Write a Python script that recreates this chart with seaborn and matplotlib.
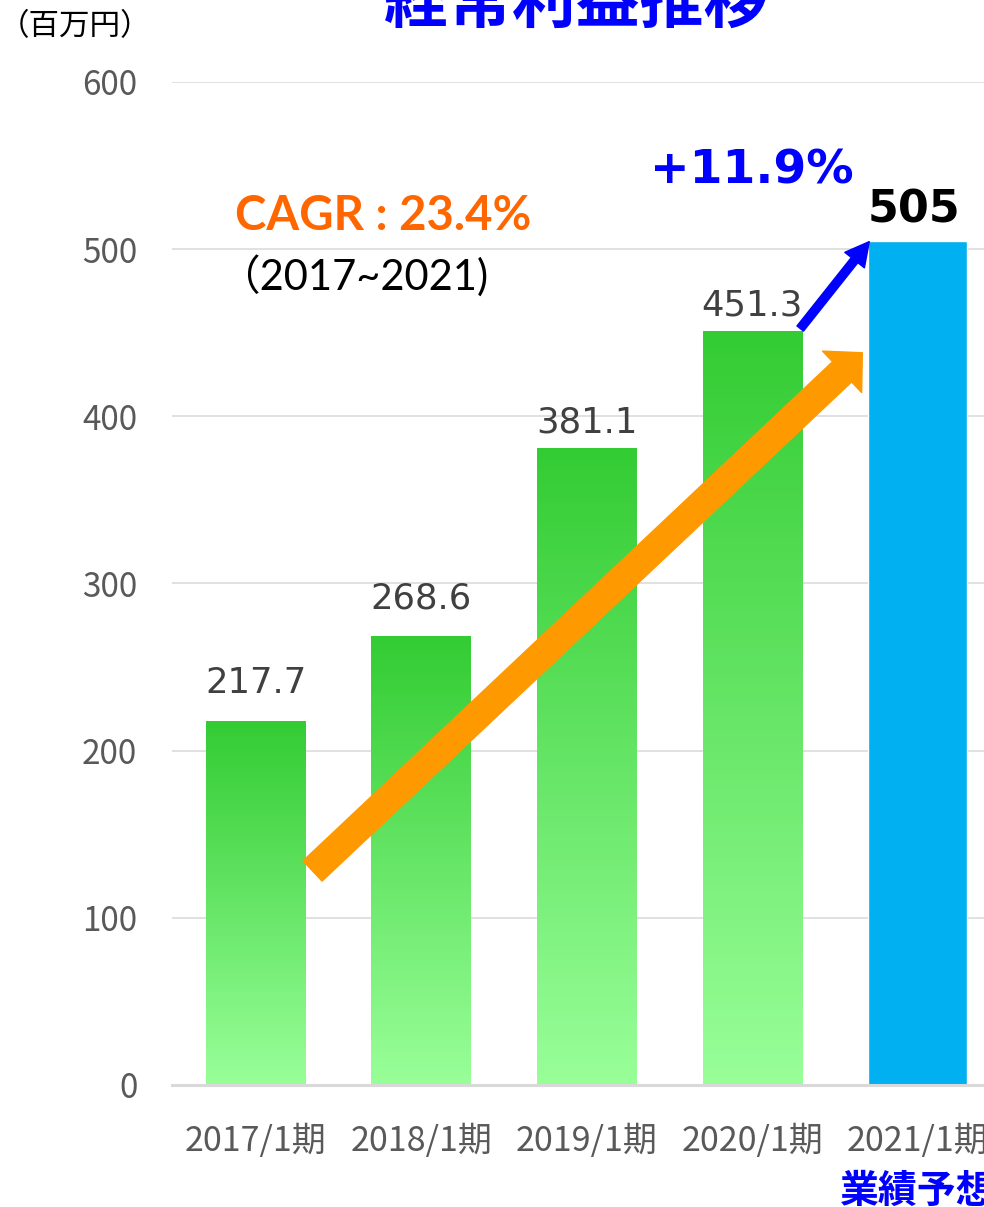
import numpy as np
import pandas as pd
import matplotlib
matplotlib.use("Agg")
import matplotlib.pyplot as plt
import seaborn as sns
from matplotlib.colors import LinearSegmentedColormap
from matplotlib.transforms import blended_transform_factory

# values (unit: million yen)
periods = ["2017/1期", "2018/1期", "2019/1期", "2020/1期", "2021/1期"]
profits = [217.7, 268.6, 381.1, 451.3, 505]
value_labels = ["217.7", "268.6", "381.1", "451.3", "505"]
y_ticks = [0, 100, 200, 300, 400, 500, 600]

title = "経常利益推移"
unit_label = "（百万円）"
forecast_label = "業績予想"
cagr_text = "CAGR : 23.4%"
cagr_range = "（2017~2021)"
growth_text = "+11.9%"

sns.set_theme(style="white")
plt.rcParams["font.family"] = ["Noto Sans CJK JP", "DejaVu Sans"]

df = pd.DataFrame({"period": periods, "profit": profits})

fig = plt.figure(figsize=(9.84, 12.07), dpi=100)
ax = fig.add_axes([0.1748, 0.1011, 0.8252, 0.8310])

bar_colors = ["#33CC33"] * 4 + ["#00B0F0"]
sns.barplot(data=df, x="period", y="profit", hue="period", palette=bar_colors,
            legend=False, width=0.6, saturation=1, ax=ax, zorder=2)

# vertical green gradient on the actual-result bars
green_grad = LinearSegmentedColormap.from_list("green_grad", ["#99FF99", "#33CC33"])
grad = np.linspace(0, 1, 256).reshape(-1, 1)
for patch in ax.patches[:4]:
    x0, y0 = patch.get_x(), patch.get_y()
    w, h = patch.get_width(), patch.get_height()
    im = ax.imshow(grad, cmap=green_grad, origin="lower", aspect="auto",
                   extent=[x0, x0 + w, y0, y0 + h], zorder=2)
    im.set_clip_path(patch)
    patch.set_facecolor("none")
    patch.set_edgecolor("none")

ax.set_xlim(-0.505, 4.40)
ax.set_ylim(0, 600)
ax.set_yticks(y_ticks)
ax.set_xlabel("")
ax.set_ylabel("")
ax.set_axisbelow(True)
ax.yaxis.grid(True, color="#D9D9D9", linewidth=1.1)
ax.xaxis.grid(False)
for side in ["top", "right", "left"]:
    ax.spines[side].set_visible(False)
ax.spines["bottom"].set_color("#D9D9D9")
ax.spines["bottom"].set_linewidth(2.2)
ax.tick_params(axis="y", length=0, pad=25, labelsize=24, labelcolor="#595959")
ax.tick_params(axis="x", length=0, pad=28, labelsize=24.5, labelcolor="#595959")

# value labels
label_pads = [20, 20, 11, 11]
for i in range(4):
    ax.annotate(value_labels[i], (i, profits[i]), xytext=(0, label_pads[i]),
                textcoords="offset points", ha="center", va="baseline",
                fontsize=25.5, color="#404040", family="DejaVu Sans")
ax.annotate(value_labels[4], (4, profits[4]), xytext=(-3, 13),
            textcoords="offset points", ha="center", va="baseline",
            fontsize=32, fontweight="bold", color="black", family="DejaVu Sans")

# CAGR arrow (orange) and growth arrow (blue)
ax.annotate("", xy=(3.665, 438), xytext=(0.344, 128), zorder=4,
            arrowprops=dict(arrowstyle="simple,head_length=20,head_width=41,tail_width=20",
                            color="#FF9900", shrinkA=0, shrinkB=0, mutation_scale=1))
ax.annotate("", xy=(3.707, 504.5), xytext=(3.29, 452.5), zorder=4,
            arrowprops=dict(arrowstyle="simple,head_length=17,head_width=18,tail_width=6",
                            color="#0000FF", shrinkA=0, shrinkB=0, mutation_scale=1))

# texts
fig.text(576 / 984, 1 - 22 / 1207, title, ha="center", va="baseline",
         fontsize=46, fontweight="bold", color="#0000FF")
fig.text(75 / 984, 1 - 27 / 1207, unit_label, ha="center", va="center",
         fontsize=22, color="black")
fig.text(235 / 984, 1 - 230 / 1207, cagr_text, ha="left", va="baseline",
         fontsize=34, fontweight="bold", color="#FF6600",
         family=["Lato", "Noto Sans CJK JP"])
fig.text(218 / 984, 1 - 290 / 1207, cagr_range, ha="left", va="baseline",
         fontsize=30, color="black", family=["Lato", "Noto Sans CJK JP"])
fig.text(650 / 984, 1 - 183 / 1207, growth_text, ha="left", va="baseline",
         fontsize=34, fontweight="bold", color="#0000FF", family="DejaVu Sans")

trans = blended_transform_factory(ax.transData, ax.transAxes)
ax.text(4, -0.1177, forecast_label, transform=trans, ha="center", va="baseline",
        fontsize=28, fontweight="bold", color="#0000FF")

fig.savefig("out.png", dpi=100)
